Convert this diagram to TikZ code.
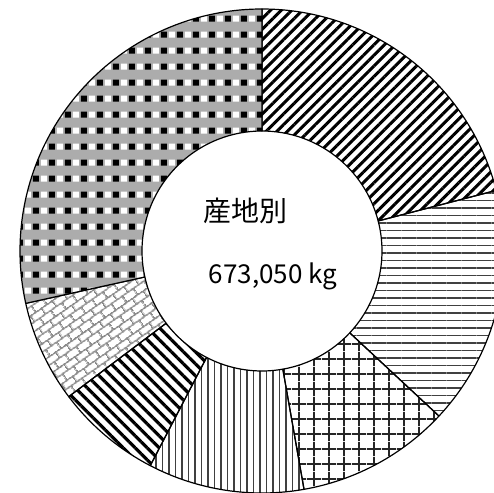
\documentclass[tikz,border=0pt]{standalone}
\usepackage{fontspec}
\setmainfont{Noto Sans CJK JP}
\usetikzlibrary{patterns,patterns.meta}
\tikzdeclarepattern{
  name=tiltbricks,
  type=uncolored,
  bottom left={(0pt,0pt)},
  top right={(14pt,15pt)},
  tile size={(14pt,15pt)},
  tile transformation={rotate=35},
  code={
    \draw [line width=1.8pt] (0pt,3.75pt) -- (14pt,3.75pt) (0pt,11.25pt) -- (14pt,11.25pt)
      (3.5pt,3.75pt) -- (3.5pt,11.25pt) (10.5pt,11.25pt) -- (10.5pt,15pt) (10.5pt,0pt) -- (10.5pt,3.75pt);
  }
}
\tikzdeclarepattern{
  name=squarecheck,
  type=colored,
  bottom left={(0pt,0pt)},
  top right={(16pt,16pt)},
  tile size={(16pt,16pt)},
  code={
    \fill [gray!65] (0pt,0pt) rectangle (16pt,16pt);
    \fill [black] (1pt,8.5pt) rectangle (7pt,14.5pt);
    \fill [white] (9pt,8.5pt) rectangle (15pt,14.5pt);
  }
}
\begin{document}
\begin{tikzpicture}[line join=bevel,slice/.style={draw=black,line width=1.2bp},]
%%
\path [use as bounding box,fill=white] (-262bp,-242bp) rectangle (232bp,251bp);
\clip (-262bp,-242bp) rectangle (232bp,251bp);
%
\draw [slice,pattern={Lines[angle=45,distance=7.5bp,line width=3bp]}] (14.5:242bp) arc [start angle=14.5,end angle=90,radius=242bp] -- (90:120bp) arc [start angle=90,end angle=14.5,radius=120bp] -- cycle;
\draw [slice,pattern={Lines[angle=0,distance=7.5bp,line width=1.6bp]},pattern color=black!75] (-43:242bp) arc [start angle=-43,end angle=14.5,radius=242bp] -- (14.5:120bp) arc [start angle=14.5,end angle=-43,radius=120bp] -- cycle;
\draw [slice,pattern={Hatch[angle=0,distance=15bp,line width=1.8bp]},pattern color=black!85] (-80:242bp) arc [start angle=-80,end angle=-43,radius=242bp] -- (-43:120bp) arc [start angle=-43,end angle=-80,radius=120bp] -- cycle;
\draw [slice,pattern={Lines[angle=90,distance=6.5bp,line width=1.6bp]},pattern color=black!75] (-117.5:242bp) arc [start angle=-117.5,end angle=-80,radius=242bp] -- (-80:120bp) arc [start angle=-80,end angle=-117.5,radius=120bp] -- cycle;
\draw [slice,pattern={Lines[angle=-45,distance=8.5bp,line width=3.2bp]}] (-143:242bp) arc [start angle=-143,end angle=-117.5,radius=242bp] -- (-117.5:120bp) arc [start angle=-117.5,end angle=-143,radius=120bp] -- cycle;
\draw [slice,pattern=tiltbricks,pattern color=black!45] (-167.5:242bp) arc [start angle=-167.5,end angle=-143,radius=242bp] -- (-143:120bp) arc [start angle=-143,end angle=-167.5,radius=120bp] -- cycle;
\draw [slice,pattern=squarecheck] (90:242bp) arc [start angle=90,end angle=192.5,radius=242bp] -- (192.5:120bp) arc [start angle=192.5,end angle=90,radius=120bp] -- cycle;
%
\node (node_title) at (-16bp,40bp) [draw=none,font=\fontsize{28bp}{32bp}\selectfont] {産地別};
\node (node_total) at (11bp,-32bp) [draw=none,anchor=base,font=\fontsize{26bp}{30bp}\selectfont] {673,050 kg};
%
\end{tikzpicture}
\end{document}
